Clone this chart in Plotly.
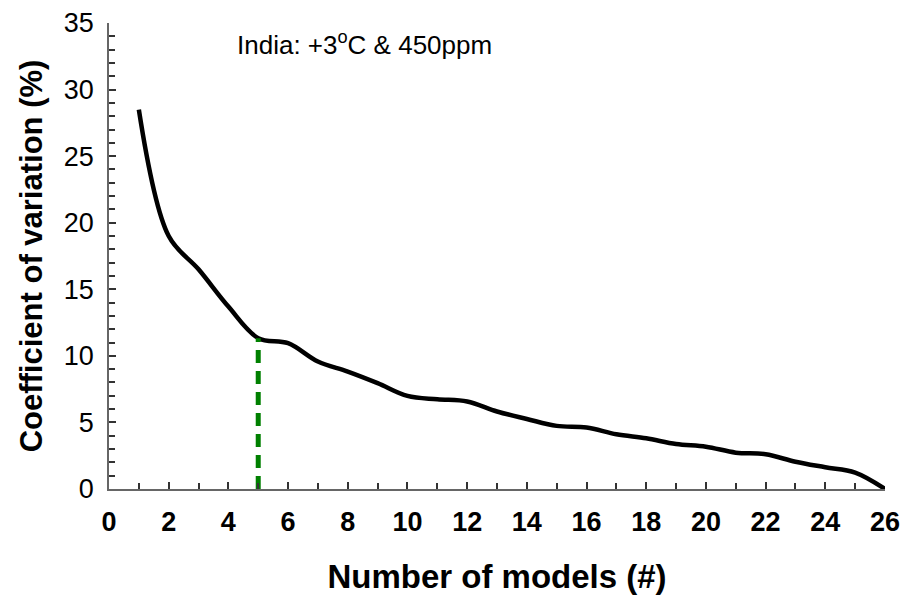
import plotly.graph_objects as go

models = list(range(1, 27))
cv = [28.5, 19.0, 16.5, 13.7, 11.33, 10.95, 9.57, 8.82, 7.95, 6.99, 6.74, 6.57, 5.82,
      5.26, 4.74, 4.62, 4.11, 3.81, 3.38, 3.18, 2.73, 2.61, 2.05, 1.63, 1.23, 0.0]
marker_x = 5
marker_y = 11.33

FONT = "Arial, Liberation Sans, sans-serif"

fig = go.Figure()
fig.add_trace(go.Scatter(x=models, y=cv, mode="lines",
                         line=dict(color="black", width=4.5, shape="spline", smoothing=1.0),
                         showlegend=False, hoverinfo="skip"))
fig.add_trace(go.Scatter(x=[marker_x, marker_x], y=[0, marker_y], mode="lines",
                         line=dict(color="#008000", width=5, dash="13px,8px"),
                         showlegend=False, hoverinfo="skip"))

fig.add_annotation(x=0.163, y=0.995, xref="paper", yref="paper", xanchor="left", yanchor="top",
                   text="India: +3<sup>o</sup>C &amp; 450ppm", showarrow=False,
                   font=dict(family=FONT, size=26, color="black"))

fig.update_layout(
    width=904, height=595,
    margin=dict(l=109, r=19, t=23, b=106),
    paper_bgcolor="white", plot_bgcolor="white",
    font=dict(family=FONT, color="black"),
)
fig.update_xaxes(range=[0, 26], dtick=2, tick0=0, ticks="inside", ticklen=7, tickwidth=1.5,
                 tickcolor="#333", showline=True, linecolor="#666", linewidth=1.5,
                 showgrid=False, zeroline=False, automargin=False, ticklabeloverflow="allow",
                 minor=dict(dtick=1, ticks="inside", ticklen=6, tickcolor="#333", tickwidth=1.5),
                 tickfont=dict(size=27, family=FONT, weight="bold"),
                 ticklabelstandoff=8,
                 title=dict(text="<b>Number of models (#)</b>", font=dict(size=33), standoff=33))
fig.update_yaxes(range=[0, 35], dtick=5, tick0=0, ticks="inside", ticklen=7, tickwidth=1.5,
                 tickcolor="#333", showline=True, linecolor="#666", linewidth=1.5,
                 showgrid=False, zeroline=False, automargin=False, ticklabeloverflow="allow",
                 minor=dict(dtick=1, ticks="inside", ticklen=6, tickcolor="#333", tickwidth=1.5),
                 tickfont=dict(size=27, family=FONT),
                 ticklabelstandoff=8,
                 title=dict(text="<b>Coefficient of variation (%)</b>", font=dict(size=31), standoff=12))

fig.write_html("out.html", config={"displayModeBar": False},
               post_script="document.body.style.margin='0';document.body.style.overflow='hidden';")
